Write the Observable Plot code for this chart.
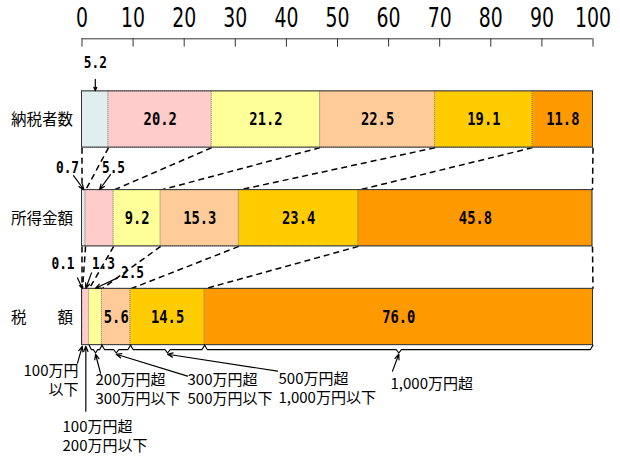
<!DOCTYPE html>
<html><head><meta charset="utf-8">
<script src="https://cdn.jsdelivr.net/npm/d3@7"></script>
<script src="https://cdn.jsdelivr.net/npm/@observablehq/plot@0.6"></script>
<style>body{margin:0;background:#fff}</style>
</head><body><div id="chart"></div>
<script>
// ---- data ----
const rows = ["納税者数", "所得金額", "税　　額"];
const taxpayers = [5.2, 20.2, 21.2, 22.5, 19.1, 11.8];
const income = [0.7, 5.5, 9.2, 15.3, 23.4, 45.8];
const taxes = [0.1, 1.3, 2.5, 5.6, 14.5, 76.0];
const bracketLabels = ["100万円\n以下", "100万円超\n200万円以下", "200万円超\n300万円以下",
  "300万円超\n500万円以下", "500万円超\n1,000万円以下", "1,000万円超"];
const colors = ["#e1eeee", "#ffcccc", "#ffff99", "#ffcc99", "#ffcc00", "#ff9900"];
const ticks = [0, 10, 20, 30, 40, 50, 60, 70, 80, 90, 100];

// ---- layout (annotation placement, in x-% and row units) ----
const h = 0.285;
const NUM = "'DejaVu Sans Mono','Liberation Mono',monospace";
const AXF = "'DejaVu Sans','Liberation Sans',sans-serif";
const CJK = "'Noto Sans CJK JP','Noto Sans',sans-serif";
const outsideLayout = [
  {row: 0, seg: 0, lx: null, ly: -0.569, tx: null, ty: -0.406},
  {row: 1, seg: 0, lx: -2.84, ly: 0.497, tx: -1.66, ty: 0.569},
  {row: 1, seg: 1, lx: 6.16, ly: 0.497, tx: 5.58, ty: 0.558},
  {row: 2, seg: 0, lx: -3.72, ly: 1.462, tx: -0.88, ty: 1.604},
  {row: 2, seg: 1, lx: 4.2, ly: 1.462, tx: 1.86, ty: 1.553},
  {row: 2, seg: 2, lx: 9.88, ly: 1.553, tx: 6.95, ty: 1.604}
];
const bottomLayout = [
  {seg: 0, lx: -0.68, ly: 2.635, anchor: "end", tx: -0.88, ty: 2.467},
  {seg: 1, lx: -3.82, ly: 3.198, anchor: "start", tx: null, ty: 2.954},
  {seg: 2, lx: 2.64, ly: 2.726, anchor: "start", tx: 3.62, ty: 2.569},
  {seg: 3, lx: 20.65, ly: 2.726, anchor: "start", tx: 20.65, ty: 2.599},
  {seg: 4, lx: 38.45, ly: 2.71, anchor: "start", tx: 38.26, ty: 2.548},
  {seg: 5, lx: 60.37, ly: 2.67, anchor: "start", tx: 60.76, ty: 2.548}
];

// ---- derived tables ----
const series = [taxpayers, income, taxes];
const segs = [];
const cums = series.map((vals, r) => {
  let c = 0; const cum = [0];
  vals.forEach((v, i) => { segs.push({row: r, i, v, x1: c, x2: c + v, color: colors[i]}); c += v; cum.push(c); });
  return cum;
});
const seg = (r, i) => segs.find(d => d.row === r && d.i === i);
const mid = d => (d.x1 + d.x2) / 2;

const links = [];
for (let r = 0; r < 2; r++) cums[r].forEach((c, k) => links.push({r, xa: c, xb: cums[r + 1][k]}));

const outside = outsideLayout.map(o => {
  const s = seg(o.row, o.seg); const m = mid(s);
  return {text: s.v.toFixed(1), lx: o.lx ?? m, ly: o.ly, tx: o.tx ?? m, ty: o.ty, px: m, py: o.row - h - 0.006};
});

const by = 2 + h, b1 = by + 0.045, b2 = by + 0.08;
const braces = [];
[2, 3, 4, 5].forEach(i => {
  const s = seg(2, i), m = mid(s), e = Math.min(0.5, (s.x2 - s.x1) / 6);
  [[s.x1, by], [s.x1 + e, b1], [m - e, b1], [m, b2], [m + e, b1], [s.x2 - e, b1], [s.x2, by]]
    .forEach(([x, y]) => braces.push({i, x, y}));
});
const bottom = bottomLayout.map(o => {
  const s = seg(2, o.seg), m = mid(s);
  const py = o.seg < 2 ? by + 0.012 : b2 + 0.012;
  return {text: bracketLabels[o.seg], lx: o.lx, ly: o.ly, anchor: o.anchor, tx: o.tx ?? m, ty: o.ty, px: m, py};
});

const chart = Plot.plot({
  width: 620, height: 460,
  x: {domain: [0, 100], range: [81.5, 592.5], axis: null},
  y: {domain: [0, 2], range: [119, 316.5], axis: null},
  color: {type: "identity"},
  style: {fontFamily: CJK, background: "white", color: "black"},
  marks: [
    // top axis
    Plot.ruleY([-0.817], {x1: 0, x2: 100, stroke: "#333"}),
    Plot.ruleX(ticks, {x: d => d, y1: -0.817, y2: -0.733, stroke: "#333"}),
    Plot.text(ticks, {x: d => d, y: -1.025, text: d => String(d), fontSize: 27, fontFamily: AXF, fill: "black"}),
    // connectors
    Plot.link(links, {x1: "xa", y1: d => d.r + h, x2: "xb", y2: d => d.r + 1 - h, stroke: "black", strokeWidth: 1.5, strokeDasharray: "6,4"}),
    // bars
    Plot.rect(segs, {x1: "x1", x2: "x2", y1: d => d.row - h, y2: d => d.row + h, fill: "color", stroke: "#777", strokeWidth: 0.8, strokeDasharray: "1,1"}),
    Plot.rect([0, 1, 2], {x1: 0, x2: r => cums[r][6], y1: r => r - h, y2: r => r + h, fill: "none", stroke: "#333", strokeWidth: 1}),
    // row labels
    Plot.text([0, 1, 2], {x: 0, y: r => r, dx: -9, dy: 1, text: r => rows[r], textAnchor: "end", fontSize: 15.5, fontFamily: CJK, fill: "black"}),
    // inside values
    Plot.text(segs.filter(d => d.v >= 5.6), {x: mid, y: "row", text: d => d.v.toFixed(1), fontSize: 18, fontWeight: "bold", fontFamily: NUM, fill: "black"}),
    // outside values
    Plot.arrow(outside, {x1: "tx", y1: "ty", x2: "px", y2: "py", stroke: "black", strokeWidth: 1.2, headLength: 7, headAngle: 45}),
    Plot.text(outside, {x: "lx", y: "ly", text: "text", fontSize: 15.2, fontWeight: "bold", fontFamily: NUM, fill: "black"}),
    // braces and bracket labels
    Plot.line(braces, {x: "x", y: "y", z: "i", stroke: "black", strokeWidth: 1.1}),
    Plot.arrow(bottom, {x1: "tx", y1: "ty", x2: "px", y2: "py", stroke: "black", strokeWidth: 1.2, headLength: 7, headAngle: 45}),
    Plot.text(bottom, {x: "lx", y: "ly", text: "text", textAnchor: "start", fontSize: 15, lineHeight: 1.27, fontFamily: CJK, fill: "black",
      filter: d => d.anchor === "start"}),
    Plot.text(bottom, {x: "lx", y: "ly", text: "text", textAnchor: "end", fontSize: 15, lineHeight: 1.27, fontFamily: CJK, fill: "black",
      filter: d => d.anchor === "end"})
  ]
});
document.getElementById("chart").appendChild(chart);

// condense the numeric labels to mimic the narrow original typeface
function squeeze(selector, perChar) {
  d3.select(chart).selectAll(selector).each(function () {
    const n = this.textContent.length;
    this.setAttribute("textLength", n * perChar);
    this.setAttribute("lengthAdjust", "spacingAndGlyphs");
  });
}
squeeze('g[font-size="27"] text', 12);
squeeze('g[font-size="18"] text', 8.3);
squeeze('g[font-size="15.2"] text', 7.7);
</script>
</body></html>
